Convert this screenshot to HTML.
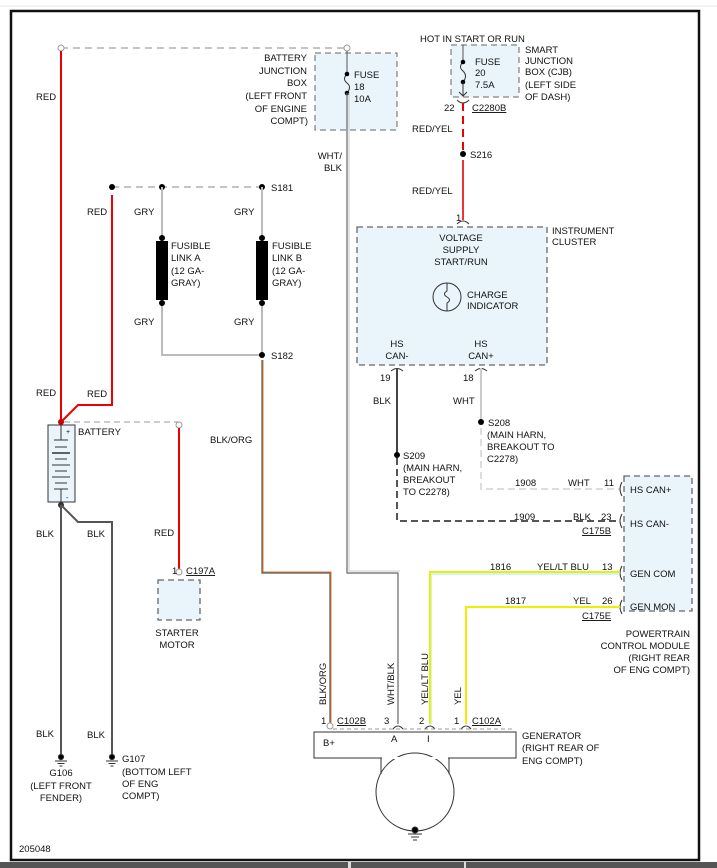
<!DOCTYPE html>
<html><head><meta charset="utf-8"><style>
html,body{margin:0;padding:0;background:#fff;width:717px;height:868px;overflow:hidden}
svg text{font-family:"Liberation Sans",Arial,sans-serif;font-size:9.5px;fill:#111}
</style></head><body>
<svg width="717" height="868" viewBox="0 0 717 868" xmlns="http://www.w3.org/2000/svg">
<rect x="0" y="0" width="717" height="868" fill="#fff"/>
<line x1="0" y1="6" x2="717" y2="6" stroke="#e4e4e4" stroke-width="1"/>
<rect x="11" y="11" width="688" height="849" fill="none" stroke="#111" stroke-width="2.5"/>
<rect x="0" y="862" width="717" height="6" fill="#555"/>
<rect x="348" y="862" width="3" height="6" fill="#ddd"/>
<rect x="464" y="862" width="2" height="6" fill="#ddd"/>

<!-- boxes -->
<rect x="315" y="53" width="82" height="77" fill="#eaf5fb" stroke="#666" stroke-dasharray="6,4"/>
<rect x="451" y="45" width="68" height="52" fill="#eaf5fb" stroke="#666" stroke-dasharray="6,4"/>
<rect x="357" y="227" width="190" height="138" fill="#eaf5fb" stroke="#666" stroke-width="1.3" stroke-dasharray="6,4"/>
<rect x="624" y="476" width="68" height="135" fill="#eaf5fb" stroke="#666" stroke-width="1.3" stroke-dasharray="6,4"/>
<rect x="158" y="580" width="42" height="40" fill="#eaf5fb" stroke="#666" stroke-width="1.3" stroke-dasharray="6,4"/>

<!-- top dashed -->
<line x1="61" y1="48" x2="347" y2="48" stroke="#888" stroke-dasharray="7,5"/>
<circle cx="61" cy="48" r="3" fill="#fff" stroke="#999"/>
<circle cx="347" cy="48" r="3" fill="#fff" stroke="#999"/>
<!-- red main -->
<polyline points="61,51 61,422" fill="none" stroke="#e00" stroke-width="2"/>
<polyline points="112,195 112,405 78,405 61,422" fill="none" stroke="#e00" stroke-width="2"/>
<!-- fuse 18 -->
<line x1="347" y1="51" x2="347" y2="74" stroke="#555"/>
<path d="M347,74 q-5,5 0,9 q5,4 0,10" fill="none" stroke="#333"/>
<circle cx="347" cy="74" r="2.3" fill="#000"/><circle cx="347" cy="93" r="2.3" fill="#000"/>
<!-- WHT/BLK -->
<polyline points="347,93 347,573 398,573 398,724" fill="none" stroke="#666" stroke-width="1.2"/>
<polyline points="349,93 349,571 400,571" fill="none" stroke="#ccc" stroke-width="1"/>

<!-- S181 -->
<line x1="112" y1="187" x2="262" y2="187" stroke="#888" stroke-dasharray="7,5"/>
<circle cx="112" cy="187" r="3" fill="#000"/><circle cx="162" cy="187" r="3" fill="#000"/><circle cx="262" cy="187" r="3" fill="#000"/>
<polyline points="162,187 162,355 262,355" fill="none" stroke="#bbb" stroke-width="2"/>
<line x1="262" y1="187" x2="262" y2="355" stroke="#bbb" stroke-width="2"/>
<rect x="156" y="241" width="12" height="59" fill="#000"/>
<rect x="256" y="241" width="12" height="59" fill="#000"/>
<circle cx="162" cy="238" r="3" fill="#000"/><circle cx="162" cy="303" r="3" fill="#000"/>
<circle cx="262" cy="238" r="3" fill="#000"/><circle cx="262" cy="303" r="3" fill="#000"/>
<circle cx="262" cy="355" r="3" fill="#000"/>
<!-- BLK/ORG -->
<polyline points="262,360 262,573 330,573 330,724" fill="none" stroke="#555" stroke-width="1.2"/>
<polyline points="263,360 263,572 331,572 331,724" fill="none" stroke="#e07a30" stroke-width="1"/>
<circle cx="330" cy="726" r="3" fill="#fff" stroke="#999"/>

<!-- battery -->
<rect x="48" y="425" width="27" height="77" fill="#eaf5fb" stroke="#333"/>
<line x1="61" y1="425" x2="61" y2="440" stroke="#333"/><line x1="54" y1="440" x2="68" y2="440" stroke="#333"/>
<line x1="55" y1="447" x2="67" y2="447" stroke="#333"/><line x1="52" y1="453" x2="70" y2="453" stroke="#333" stroke-width="1.5"/>
<line x1="55" y1="459" x2="67" y2="459" stroke="#333"/><line x1="52" y1="465" x2="70" y2="465" stroke="#333"/>
<line x1="55" y1="471" x2="67" y2="471" stroke="#333"/><line x1="52" y1="477" x2="70" y2="477" stroke="#333"/>
<line x1="55" y1="483" x2="67" y2="483" stroke="#333"/><line x1="54" y1="489" x2="68" y2="489" stroke="#333"/>
<line x1="61" y1="489" x2="61" y2="502" stroke="#333"/>
<text x="66" y="434" style="font-size:7px">+</text><text x="66" y="500" style="font-size:7px">-</text>
<circle cx="61" cy="422" r="3" fill="#c00"/>
<line x1="64" y1="422" x2="179" y2="422" stroke="#999" stroke-dasharray="6,4"/>
<circle cx="179" cy="425" r="3" fill="#fff" stroke="#999"/>
<line x1="179" y1="428" x2="179" y2="569" stroke="#e00" stroke-width="2"/>
<circle cx="179" cy="572" r="3" fill="#fff" stroke="#999"/>
<circle cx="61" cy="505" r="3" fill="#333"/>
<line x1="61" y1="505" x2="61" y2="755" stroke="#555" stroke-width="2"/>
<polyline points="61,505 78,522 112,522 112,755" fill="none" stroke="#555" stroke-width="2"/>
<!-- grounds -->
<g stroke="#333"><circle cx="61" cy="757" r="2.6" fill="#000"/><line x1="55" y1="761" x2="67" y2="761"/><line x1="57.5" y1="763.5" x2="64.5" y2="763.5"/><line x1="59.5" y1="766" x2="62.5" y2="766"/>
<circle cx="112" cy="757" r="2.6" fill="#000"/><line x1="106" y1="761" x2="118" y2="761"/><line x1="108.5" y1="763.5" x2="115.5" y2="763.5"/><line x1="110.5" y1="766" x2="113.5" y2="766"/></g>

<!-- SJB fuse -->
<line x1="463" y1="45" x2="463" y2="62" stroke="#555"/>
<path d="M463,62 q-5,5 0,9 q5,5 0,11" fill="none" stroke="#333"/>
<circle cx="463" cy="62" r="2.3" fill="#000"/><circle cx="463" cy="82" r="2.3" fill="#000"/>
<line x1="463" y1="82" x2="463" y2="96" stroke="#333"/>
<path d="M459,92 L463,96 L467,92" fill="none" stroke="#333"/>
<path d="M457,100 q6,6 12,0" fill="none" stroke="#333"/>
<line x1="463" y1="103" x2="463" y2="152" stroke="#e00" stroke-width="2" stroke-dasharray="8,5"/>
<circle cx="463" cy="154" r="3" fill="#000"/>
<line x1="463" y1="160" x2="463" y2="220" stroke="#e33" stroke-width="2"/>
<path d="M457,224 q6,-6 12,0" fill="none" stroke="#333"/>

<!-- charge indicator -->
<circle cx="447" cy="297" r="14" fill="none" stroke="#333"/>
<path d="M447,283 v8 q-5,3 0,6 q5,3 0,6 v8" fill="none" stroke="#333"/>

<!-- CAN wires -->
<path d="M391,371 q6,-5 12,0" fill="none" stroke="#333"/>
<path d="M475,371 q6,-5 12,0" fill="none" stroke="#333"/>
<line x1="397" y1="368" x2="397" y2="455" stroke="#444" stroke-width="2"/>
<circle cx="397" cy="455" r="3" fill="#000"/>
<polyline points="397,458 397,521 620,521" fill="none" stroke="#555" stroke-width="2" stroke-dasharray="7,4"/>
<line x1="481" y1="368" x2="481" y2="421" stroke="#ccc" stroke-width="2"/>
<circle cx="481" cy="422" r="3" fill="#000"/>
<polyline points="481,428 481,489 620,489" fill="none" stroke="#ddd" stroke-width="2" stroke-dasharray="7,4"/>
<g fill="none" stroke="#333"><path d="M622,482 q-4,7 0,14"/><path d="M622,514 q-4,7 0,14"/><path d="M622,566 q-4,7 0,14"/><path d="M622,600 q-4,7 0,14"/></g>

<!-- gen wires -->
<polyline points="620,574 431,574 431,724" fill="none" stroke="#9ef" stroke-width="1"/>
<polyline points="620,572 430,572 430,724" fill="none" stroke="#ee0" stroke-width="2"/>
<polyline points="620,607 466,607 466,724" fill="none" stroke="#ee0" stroke-width="2"/>
<g fill="none" stroke="#333"><path d="M393,729 q5,-6 10,0"/><path d="M425,729 q5,-6 10,0"/><path d="M461,729 q5,-6 10,0"/></g>
<line x1="333" y1="729" x2="514" y2="729" stroke="#999" stroke-dasharray="4,3"/>

<!-- generator -->
<rect x="314" y="732" width="202" height="26" fill="#fff" stroke="#333"/>
<circle cx="415" cy="792" r="39" fill="#fff" stroke="#333"/>
<line x1="381" y1="758" x2="381" y2="774" stroke="#333"/><line x1="449" y1="758" x2="449" y2="774" stroke="#333"/>
<line x1="382" y1="758" x2="448" y2="758" stroke="#fff" stroke-width="2"/>
<g stroke="#333"><circle cx="415" cy="830" r="3" fill="#000"/><line x1="408" y1="834" x2="422" y2="834"/><line x1="411" y1="837" x2="419" y2="837"/><line x1="413" y1="840" x2="417" y2="840"/></g>

<!-- texts -->
<g text-anchor="end">
<text x="307" y="61">BATTERY</text><text x="307" y="74">JUNCTION</text><text x="307" y="86">BOX</text>
<text x="307" y="99">(LEFT FRONT</text><text x="307" y="112">OF ENGINE</text><text x="308" y="124">COMPT)</text>
<text x="342" y="159">WHT/</text><text x="342" y="171">BLK</text>
<text x="690" y="637">POWERTRAIN</text><text x="690" y="649">CONTROL MODULE</text><text x="690" y="661">(RIGHT REAR</text><text x="690" y="673">OF ENG COMPT)</text>
</g>
<text x="354" y="78">FUSE</text><text x="354" y="90">18</text><text x="354" y="102">10A</text>
<text x="36" y="100">RED</text><text x="87" y="215">RED</text><text x="134" y="215">GRY</text><text x="234" y="215">GRY</text>
<text x="271" y="191">S181</text><text x="271" y="359">S182</text>
<text x="171" y="249">FUSIBLE</text><text x="171" y="261">LINK A</text><text x="171" y="274">(12 GA-</text><text x="171" y="286">GRAY)</text>
<text x="272" y="249">FUSIBLE</text><text x="272" y="261">LINK B</text><text x="272" y="274">(12 GA-</text><text x="272" y="286">GRAY)</text>
<text x="134" y="325">GRY</text><text x="234" y="325">GRY</text>
<text x="36" y="396">RED</text><text x="87" y="397">RED</text>
<text x="78" y="435">BATTERY</text>
<text x="210" y="443">BLK/ORG</text>
<text x="36" y="537">BLK</text><text x="87" y="537">BLK</text><text x="154" y="536">RED</text>
<text x="172" y="574">1</text><text x="186" y="574" text-decoration="underline">C197A</text>
<text x="177" y="636" text-anchor="middle">STARTER</text><text x="177" y="648" text-anchor="middle">MOTOR</text>
<text x="36" y="737">BLK</text><text x="87" y="738">BLK</text>
<text x="61" y="776" text-anchor="middle">G106</text><text x="61" y="789" text-anchor="middle">(LEFT FRONT</text><text x="61" y="801" text-anchor="middle">FENDER)</text>
<text x="122" y="762">G107</text><text x="122" y="775">(BOTTOM LEFT</text><text x="122" y="787">OF ENG</text><text x="122" y="799">COMPT)</text>
<text x="19" y="852">205048</text>

<text x="420" y="42">HOT IN START OR RUN</text>
<text x="475" y="65">FUSE</text><text x="475" y="76">20</text><text x="475" y="88">7.5A</text>
<text x="525" y="53">SMART</text><text x="525" y="64">JUNCTION</text><text x="525" y="75">BOX (CJB)</text><text x="525" y="88">(LEFT SIDE</text><text x="525" y="100">OF DASH)</text>
<text x="444" y="111">22</text><text x="472" y="111" text-decoration="underline">C2280B</text>
<text x="412" y="132">RED/YEL</text><text x="470" y="158">S216</text><text x="412" y="194">RED/YEL</text>
<text x="456" y="221">1</text>
<text x="552" y="234">INSTRUMENT</text><text x="552" y="245">CLUSTER</text>
<g text-anchor="middle"><text x="461" y="241">VOLTAGE</text><text x="461" y="253">SUPPLY</text><text x="461" y="265">START/RUN</text>
<text x="397" y="347">HS</text><text x="397" y="359">CAN-</text><text x="481" y="347">HS</text><text x="481" y="359">CAN+</text></g>
<text x="467" y="298">CHARGE</text><text x="467" y="309">INDICATOR</text>
<text x="380" y="381">19</text><text x="463" y="381">18</text>
<text x="373" y="404">BLK</text><text x="453" y="404">WHT</text>
<text x="488" y="426">S208</text><text x="487" y="438">(MAIN HARN,</text><text x="487" y="450">BREAKOUT TO</text><text x="487" y="462">C2278)</text>
<text x="403" y="459">S209</text><text x="403" y="471">(MAIN HARN,</text><text x="403" y="483">BREAKOUT</text><text x="403" y="495">TO C2278)</text>
<text x="515" y="486">1908</text><text x="568" y="486">WHT</text><text x="604" y="486">11</text>
<text x="514" y="520">1909</text><text x="573" y="520">BLK</text><text x="601" y="520">23</text>
<text x="582" y="534" text-decoration="underline">C175B</text>
<text x="630" y="493">HS CAN+</text><text x="630" y="527">HS CAN-</text><text x="630" y="577">GEN COM</text><text x="630" y="610">GEN MON</text>
<text x="490" y="570">1816</text><text x="537" y="570">YEL/LT BLU</text><text x="602" y="570">13</text>
<text x="505" y="604">1817</text><text x="573" y="604">YEL</text><text x="602" y="604">26</text>
<text x="582" y="619" text-decoration="underline">C175E</text>
<text transform="translate(326,705) rotate(-90)">BLK/ORG</text>
<text transform="translate(394,705) rotate(-90)">WHT/BLK</text>
<text transform="translate(428,705) rotate(-90)">YEL/LT BLU</text>
<text transform="translate(461,705) rotate(-90)">YEL</text>
<text x="321" y="724">1</text><text x="337" y="724" text-decoration="underline">C102B</text>
<text x="384" y="724">3</text><text x="419" y="724">2</text><text x="454" y="724">1</text>
<text x="472" y="724" text-decoration="underline">C102A</text>
<text x="323" y="746">B+</text><text x="391" y="742">A</text><text x="427" y="742">I</text>
<text x="522" y="739">GENERATOR</text><text x="522" y="751">(RIGHT REAR OF</text><text x="522" y="764">ENG COMPT)</text>
</svg>
</body></html>
